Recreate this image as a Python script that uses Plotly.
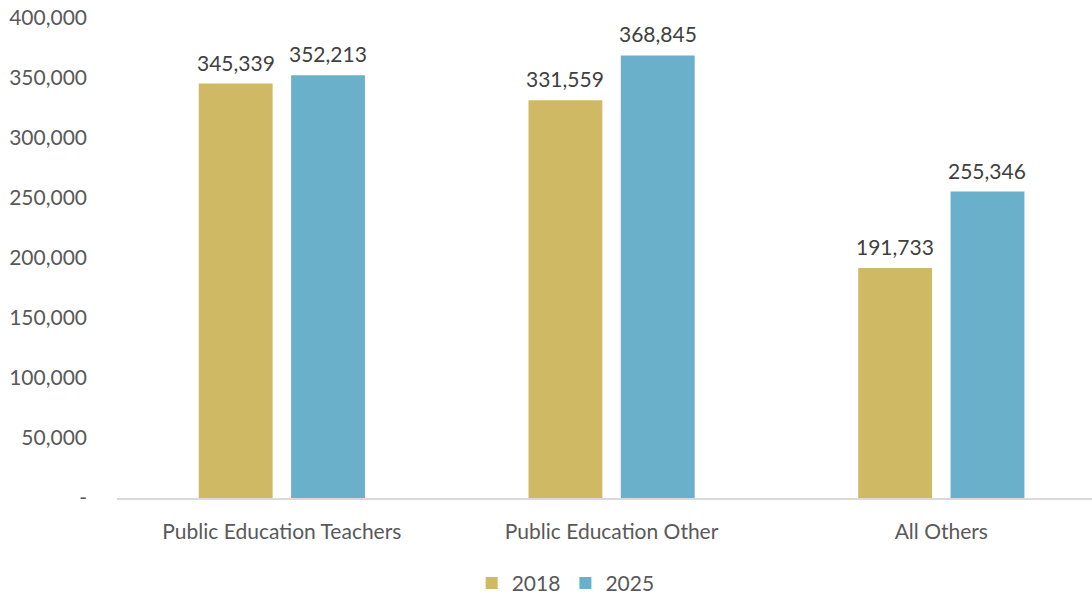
import plotly.graph_objects as go

categories = ["Public Education Teachers", "Public Education Other", "All Others"]
values_2018 = [345339, 331559, 191733]
values_2025 = [352213, 368845, 255346]
tick_values = [0, 50000, 100000, 150000, 200000, 250000, 300000, 350000, 400000]
tick_labels = ["-", "50,000", "100,000", "150,000", "200,000", "250,000", "300,000", "350,000", "400,000"]

FONT = "Lato, 'Open Sans', sans-serif"
GOLD = "#CFB965"
BLUE = "#6AB0CA"
BAR_W = 0.224

fig = go.Figure()
series = [("2018", values_2018, GOLD, -0.252), ("2025", values_2025, BLUE, 0.028)]
for name, vals, color, off in series:
    fig.add_trace(go.Bar(
        name=name, x=list(range(len(categories))), y=vals,
        marker_color=color, marker_line_width=0,
        width=BAR_W, offset=off,
    ))
    # value labels above each bar
    for i, v in enumerate(vals):
        fig.add_annotation(
            x=i + off + BAR_W / 2, y=v, text=f"{v:,}", showarrow=False,
            yanchor="bottom", yshift=7,
            font=dict(family=FONT, size=21, color="#404040"),
        )

fig.update_layout(
    width=1092, height=594,
    margin=dict(l=117, r=0, t=18, b=96, autoexpand=False),
    plot_bgcolor="white", paper_bgcolor="white",
    font=dict(family=FONT, size=21, color="#595959"),
    showlegend=True,
    legend=dict(orientation="h", x=0.518, xanchor="center", xref="container",
                y=-0.135, yanchor="top", yref="paper",
                font=dict(family=FONT, size=21, color="#595959"), itemsizing="constant"),
    xaxis=dict(range=[-0.5, 2.457], tickvals=list(range(len(categories))), ticktext=categories,
               showline=True, linecolor="#D9D9D9", linewidth=2,
               showgrid=False, zeroline=False, ticks="", ticklabelstandoff=14,
               tickfont=dict(family=FONT, size=21, color="#595959")),
    yaxis=dict(range=[0, 400000], tickvals=tick_values, ticktext=tick_labels,
               showgrid=False, zeroline=False, showline=False, ticks="",
               ticklabelstandoff=29,
               tickfont=dict(family=FONT, size=21, color="#595959")),
)

fig.write_html("out.html")
